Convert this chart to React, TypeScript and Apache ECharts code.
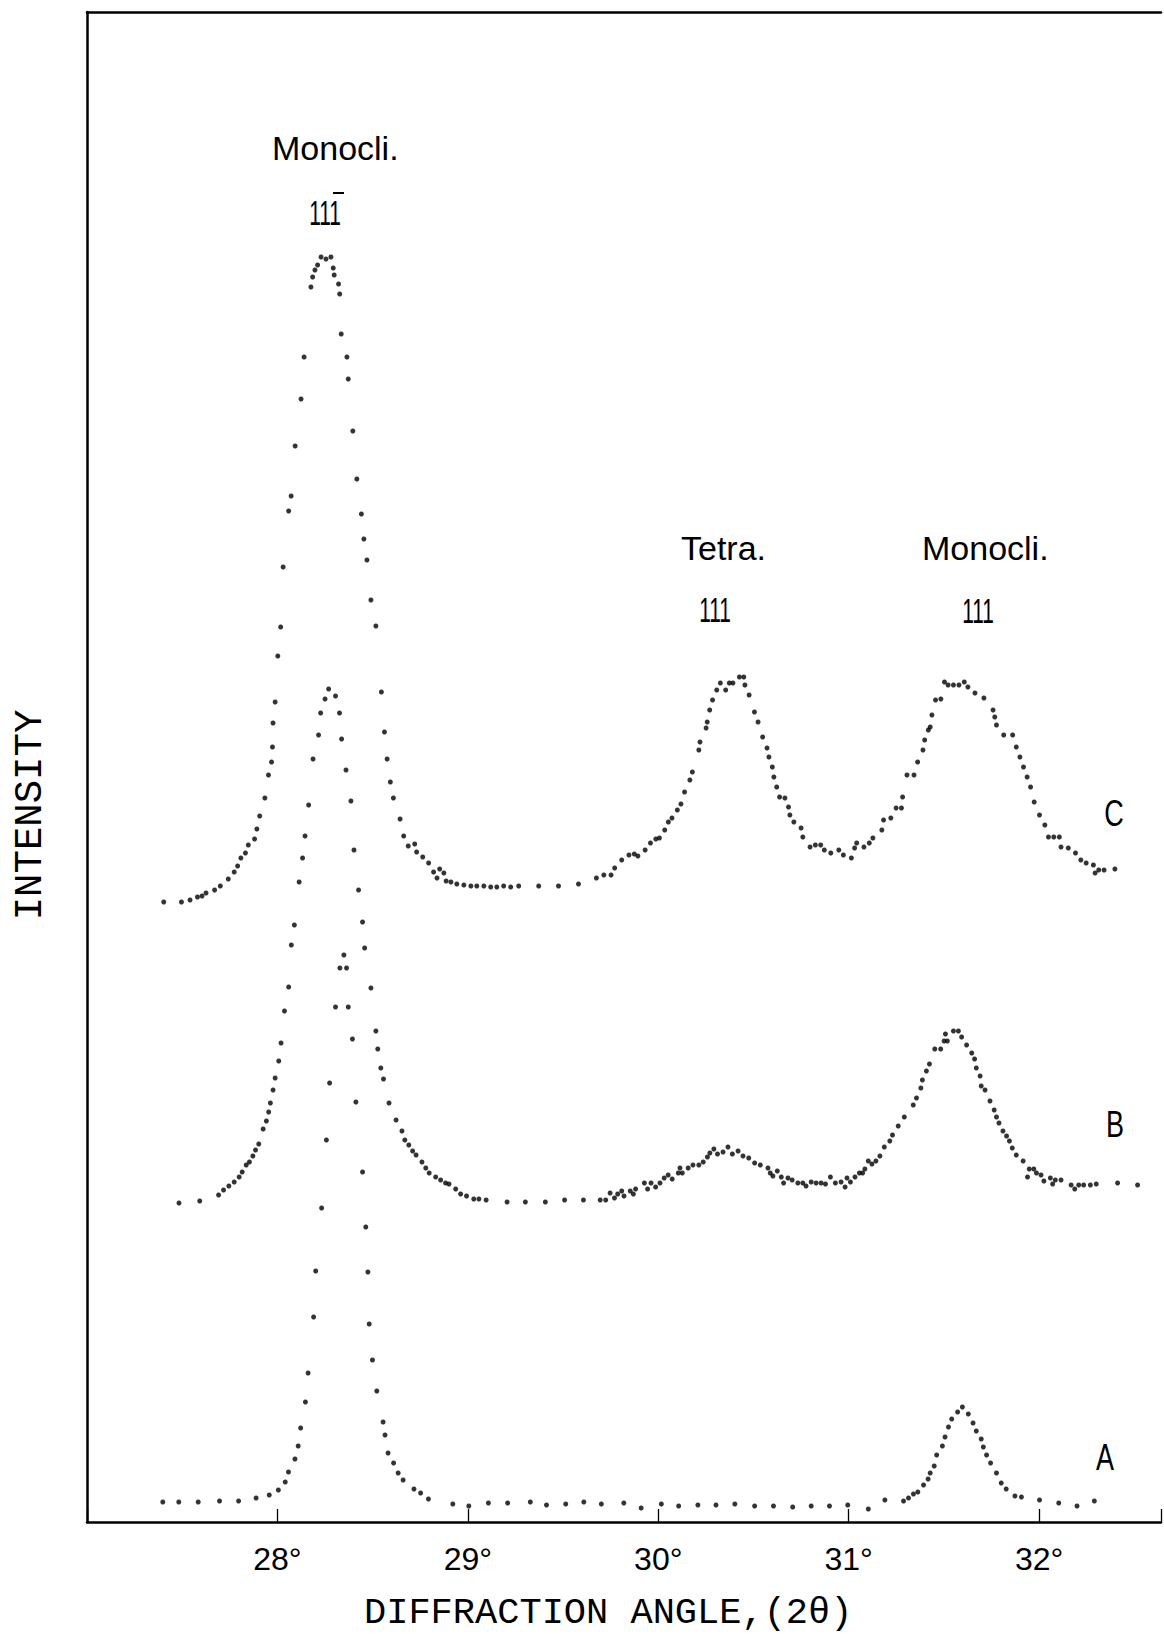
import React, { useEffect, useRef } from 'react';
import * as echarts from 'echarts';

// x = diffraction angle 2θ (degrees), y = intensity (arbitrary units, curves stacked)
const curveLabels = ['A', 'B', 'C'];
const tickValues = [28, 29, 30, 31, 32];
const tickLabels = ['28°', '29°', '30°', '31°', '32°'];
const xTitle = 'DIFFRACTION ANGLE,(2θ)';
const yTitle = 'INTENSITY';
const peakPhases = ['Monocli.', 'Tetra.', 'Monocli.'];
const peakIndices = ['111', '111', '111'];

const curveC: [number, number][] = [
  [27.403, 620], [27.496, 620], [27.541, 622], [27.580, 625], [27.604, 626], [27.625, 629], [27.670, 632],
  [27.700, 636], [27.742, 643], [27.773, 650], [27.791, 656], [27.808, 664], [27.832, 669], [27.847, 677],
  [27.880, 683], [27.892, 693], [27.907, 706], [27.934, 724], [27.953, 747], [27.969, 760], [27.974, 775],
  [27.977, 799], [27.988, 820], [28.002, 866], [28.017, 895], [28.030, 955], [28.059, 1011], [28.072, 1026],
  [28.093, 1076], [28.124, 1123], [28.140, 1165], [28.176, 1235], [28.185, 1245], [28.197, 1252], [28.211, 1257],
  [28.229, 1265], [28.255, 1263], [28.281, 1265], [28.293, 1254], [28.298, 1247], [28.321, 1238], [28.327, 1228],
  [28.335, 1188], [28.365, 1165], [28.372, 1143], [28.396, 1091], [28.417, 1043], [28.441, 1008], [28.454, 983],
  [28.470, 962], [28.491, 922], [28.517, 896], [28.546, 830], [28.562, 790], [28.576, 763], [28.593, 740],
  [28.609, 724], [28.644, 703], [28.663, 686], [28.687, 676], [28.721, 678], [28.731, 670], [28.763, 665],
  [28.794, 659], [28.820, 650], [28.838, 644], [28.852, 653], [28.874, 649], [28.886, 641], [28.911, 640],
  [28.942, 638], [28.979, 637], [29.016, 636], [29.047, 636], [29.084, 636], [29.120, 635], [29.152, 635],
  [29.188, 636], [29.225, 635], [29.267, 636], [29.372, 636], [29.476, 636], [29.581, 638], [29.675, 644],
  [29.714, 647], [29.752, 647], [29.771, 654], [29.808, 662], [29.846, 667], [29.874, 668], [29.893, 666],
  [29.931, 672], [29.959, 679], [29.987, 683], [30.006, 684], [30.034, 692], [30.053, 700], [30.072, 704],
  [30.100, 712], [30.119, 718], [30.138, 730], [30.166, 742], [30.179, 750], [30.213, 772], [30.219, 780],
  [30.251, 794], [30.257, 800], [30.270, 812], [30.285, 822], [30.307, 832], [30.326, 839], [30.354, 832],
  [30.373, 839], [30.392, 839], [30.426, 845], [30.449, 845], [30.455, 837], [30.477, 827], [30.505, 810],
  [30.524, 800], [30.548, 785], [30.571, 774], [30.581, 765], [30.599, 755], [30.607, 745], [30.622, 735],
  [30.637, 725], [30.665, 724], [30.684, 715], [30.691, 707], [30.712, 700], [30.750, 694], [30.759, 685],
  [30.797, 675], [30.825, 677], [30.853, 677], [30.872, 672], [30.906, 669], [30.948, 672], [30.972, 667],
  [31.014, 664], [31.031, 674], [31.042, 679], [31.080, 675], [31.108, 679], [31.127, 684], [31.174, 692],
  [31.183, 702], [31.221, 704], [31.249, 714], [31.277, 714], [31.283, 725], [31.306, 747], [31.343, 747],
  [31.362, 760], [31.390, 772], [31.399, 782], [31.418, 792], [31.428, 795], [31.437, 807], [31.456, 822],
  [31.484, 823], [31.503, 840], [31.522, 837], [31.550, 837], [31.579, 837], [31.607, 840], [31.626, 835],
  [31.663, 829], [31.710, 824], [31.758, 812], [31.767, 805], [31.776, 797], [31.814, 787], [31.861, 787],
  [31.880, 775], [31.899, 765], [31.918, 755], [31.937, 745], [31.955, 735], [31.974, 720], [32.002, 707],
  [32.030, 697], [32.049, 685], [32.077, 685], [32.106, 685], [32.115, 675], [32.153, 674], [32.191, 669],
  [32.219, 662], [32.247, 659], [32.285, 657], [32.294, 649], [32.313, 652], [32.341, 652], [32.398, 653],
];

const curveB: [number, number][] = [
  [27.483, 319], [27.592, 321], [27.691, 327], [27.717, 332], [27.745, 336], [27.773, 340], [27.799, 345],
  [27.815, 350], [27.836, 357], [27.853, 360], [27.871, 366], [27.885, 372], [27.902, 378], [27.925, 393],
  [27.942, 401], [27.954, 410], [27.963, 419], [27.977, 432], [27.988, 444], [28.007, 461], [28.019, 479],
  [28.037, 511], [28.059, 535], [28.073, 577], [28.089, 597], [28.114, 640], [28.132, 664], [28.145, 686],
  [28.164, 717], [28.187, 763], [28.216, 787], [28.227, 809], [28.250, 823], [28.269, 833], [28.305, 826],
  [28.326, 809], [28.337, 783], [28.360, 752], [28.386, 721], [28.402, 672], [28.426, 632], [28.447, 600],
  [28.458, 574], [28.491, 534], [28.517, 491], [28.527, 473], [28.543, 454], [28.557, 443], [28.586, 419],
  [28.623, 402], [28.654, 391], [28.669, 382], [28.690, 377], [28.710, 371], [28.728, 367], [28.759, 360],
  [28.779, 354], [28.797, 349], [28.831, 345], [28.857, 342], [28.883, 339], [28.901, 338], [28.936, 333],
  [28.962, 328], [28.993, 326], [29.031, 323], [29.058, 323], [29.096, 322], [29.206, 320], [29.302, 320],
  [29.407, 320], [29.508, 322], [29.607, 322], [29.695, 322], [29.724, 322], [29.747, 329], [29.770, 324],
  [29.787, 328], [29.808, 331], [29.820, 326], [29.853, 331], [29.869, 328], [29.881, 333], [29.927, 339],
  [29.944, 333], [29.962, 339], [29.986, 335], [30.009, 339], [30.031, 344], [30.052, 347], [30.073, 343],
  [30.105, 349], [30.114, 354], [30.126, 349], [30.157, 354], [30.182, 357], [30.213, 357], [30.236, 360],
  [30.258, 365], [30.271, 369], [30.292, 373], [30.311, 368], [30.340, 370], [30.366, 375], [30.389, 368],
  [30.419, 371], [30.445, 366], [30.475, 364], [30.506, 359], [30.536, 357], [30.576, 354], [30.588, 349],
  [30.602, 346], [30.625, 351], [30.646, 345], [30.658, 339], [30.681, 344], [30.703, 342], [30.733, 339],
  [30.759, 339], [30.776, 336], [30.803, 340], [30.829, 339], [30.855, 339], [30.878, 338], [30.904, 345],
  [30.930, 339], [30.960, 340], [30.981, 335], [30.991, 344], [31.009, 340], [31.033, 345], [31.056, 349],
  [31.073, 349], [31.085, 353], [31.103, 361], [31.122, 358], [31.143, 361], [31.164, 366], [31.187, 375],
  [31.216, 381], [31.230, 387], [31.260, 396], [31.292, 405], [31.339, 417], [31.356, 424], [31.379, 434],
  [31.387, 442], [31.408, 451], [31.424, 458], [31.452, 473], [31.483, 473], [31.501, 481], [31.508, 488],
  [31.518, 481], [31.550, 491], [31.576, 491], [31.593, 485], [31.619, 477], [31.646, 469], [31.661, 463],
  [31.670, 454], [31.690, 446], [31.696, 436], [31.716, 432], [31.742, 421], [31.764, 412], [31.776, 405],
  [31.789, 399], [31.810, 391], [31.829, 386], [31.844, 381], [31.859, 374], [31.880, 367], [31.916, 361],
  [31.939, 345], [31.948, 353], [31.972, 353], [31.986, 349], [32.010, 347], [32.025, 341], [32.059, 344],
  [32.071, 338], [32.085, 342], [32.115, 342], [32.168, 337], [32.187, 333], [32.208, 337], [32.234, 337],
  [32.269, 337], [32.300, 338], [32.412, 339], [32.517, 337],
];

const curveA: [number, number][] = [
  [27.398, 20], [27.482, 20], [27.584, 20], [27.696, 21], [27.796, 21], [27.888, 24], [27.957, 27],
  [28.005, 32], [28.041, 40], [28.058, 50], [28.092, 63], [28.109, 76], [28.122, 94], [28.147, 120],
  [28.161, 149], [28.190, 205], [28.201, 251], [28.232, 314], [28.257, 382], [28.274, 439], [28.305, 515],
  [28.328, 554], [28.349, 567], [28.363, 554], [28.372, 515], [28.394, 483], [28.412, 420], [28.447, 350],
  [28.464, 295], [28.475, 250], [28.482, 198], [28.499, 162], [28.522, 131], [28.555, 100], [28.565, 87],
  [28.581, 69], [28.610, 59], [28.634, 49], [28.660, 42], [28.717, 33], [28.752, 29], [28.793, 23],
  [28.921, 18], [29.005, 16], [29.108, 19], [29.209, 19], [29.328, 20], [29.413, 17], [29.514, 18],
  [29.609, 20], [29.701, 18], [29.819, 19], [29.910, 14], [30.016, 18], [30.107, 16], [30.208, 17],
  [30.303, 17], [30.402, 18], [30.506, 16], [30.605, 16], [30.706, 15], [30.803, 16], [30.899, 16],
  [30.995, 17], [31.103, 13], [31.190, 22], [31.288, 21], [31.314, 24], [31.340, 28], [31.363, 30],
  [31.393, 37], [31.417, 43], [31.428, 49], [31.449, 56], [31.462, 67], [31.492, 76], [31.506, 85],
  [31.524, 95], [31.541, 103], [31.572, 110], [31.597, 115], [31.628, 108], [31.653, 99], [31.670, 91],
  [31.696, 83], [31.707, 75], [31.724, 67], [31.745, 59], [31.776, 49], [31.801, 39], [31.827, 33],
  [31.873, 26], [31.907, 25], [32.002, 22], [32.103, 19], [32.199, 16], [32.290, 21],
];

const X_MIN = 27;
const X_MAX = 32.64;
const Y_MAX = 1510;

const SANS = '"Liberation Sans", Arial, sans-serif';
const MONO = '"Liberation Mono", "DejaVu Sans Mono", monospace';

function txt(text: string, x: number, y: number, size: number, family: string, align: string, extra: any = {}) {
  return {
    type: 'text',
    x,
    y,
    silent: true,
    ...extra,
    style: {
      text,
      fill: '#000',
      fontSize: size,
      fontFamily: family,
      textAlign: align,
      textVerticalAlign: 'middle',
    },
  };
}

export default function App() {
  const ref = useRef<HTMLDivElement>(null);

  useEffect(() => {
    if (!ref.current) return;
    const chart = echarts.init(ref.current, null, { renderer: 'svg' });
    const axisLineStyle = { color: '#000', width: 2.5 };
    const dot = (name: string, data: [number, number][]) => ({
      name,
      type: 'scatter',
      data,
      symbol: 'circle',
      symbolSize: 5,
      itemStyle: { color: '#000' },
      silent: true,
    });

    const option: any = {
      animation: false,
      backgroundColor: '#fff',
      grid: { left: 87, right: 0, top: 12, bottom: 112 },
      xAxis: [
        {
          type: 'value',
          min: X_MIN,
          max: X_MAX,
          interval: 1,
          position: 'bottom',
          axisLine: { show: true, onZero: false, lineStyle: axisLineStyle },
          axisTick: { show: true, inside: true, length: 13, lineStyle: { color: '#000', width: 1.3 } },
          axisLabel: {
            show: true,
            margin: 21,
            fontSize: 32,
            fontFamily: SANS,
            color: '#000',
            formatter: (v: number) => {
              const i = tickValues.indexOf(Math.round(v * 1000) / 1000);
              return i >= 0 ? tickLabels[i] : '';
            },
          },
          splitLine: { show: false },
        },
        {
          type: 'value',
          min: X_MIN,
          max: X_MAX,
          position: 'top',
          axisLine: { show: true, onZero: false, lineStyle: axisLineStyle },
          axisTick: { show: false },
          axisLabel: { show: false },
          splitLine: { show: false },
        },
      ],
      yAxis: {
        type: 'value',
        min: 0,
        max: Y_MAX,
        axisLine: { show: true, onZero: false, lineStyle: axisLineStyle },
        axisTick: { show: false },
        axisLabel: { show: false },
        splitLine: { show: false },
      },
      series: [dot(curveLabels[0], curveA), dot(curveLabels[1], curveB), dot(curveLabels[2], curveC)],
      graphic: {
        elements: [
          txt(xTitle, 364, 1613, 37, MONO, 'left'),
          txt(yTitle, 31, 815, 39, MONO, 'center', { rotation: Math.PI / 2 }),
          txt(peakPhases[0], 272, 148, 34, SANS, 'left'),
          txt(peakIndices[0], 325, 212, 36, SANS, 'center', { scaleX: 0.58 }),
          {
            type: 'line',
            silent: true,
            shape: { x1: 333, y1: 193, x2: 344, y2: 193 },
            style: { stroke: '#000', lineWidth: 2 },
          },
          txt(peakPhases[1], 681, 548, 34, SANS, 'left'),
          txt(peakIndices[1], 715, 609, 36, SANS, 'center', { scaleX: 0.58 }),
          txt(peakPhases[2], 922, 548, 34, SANS, 'left'),
          txt(peakIndices[2], 978, 610, 36, SANS, 'center', { scaleX: 0.58 }),
          txt(curveLabels[2], 1114, 814, 36, SANS, 'center', { scaleX: 0.75 }),
          txt(curveLabels[1], 1115, 1125, 36, SANS, 'center', { scaleX: 0.75 }),
          txt(curveLabels[0], 1105, 1458, 36, SANS, 'center', { scaleX: 0.75 }),
        ],
      },
    };
    chart.setOption(option);
    return () => chart.dispose();
  }, []);

  return (
    <div
      ref={ref}
      style={{ position: 'absolute', left: 0, top: 0, width: 1164, height: 1634, background: '#fff' }}
    />
  );
}
